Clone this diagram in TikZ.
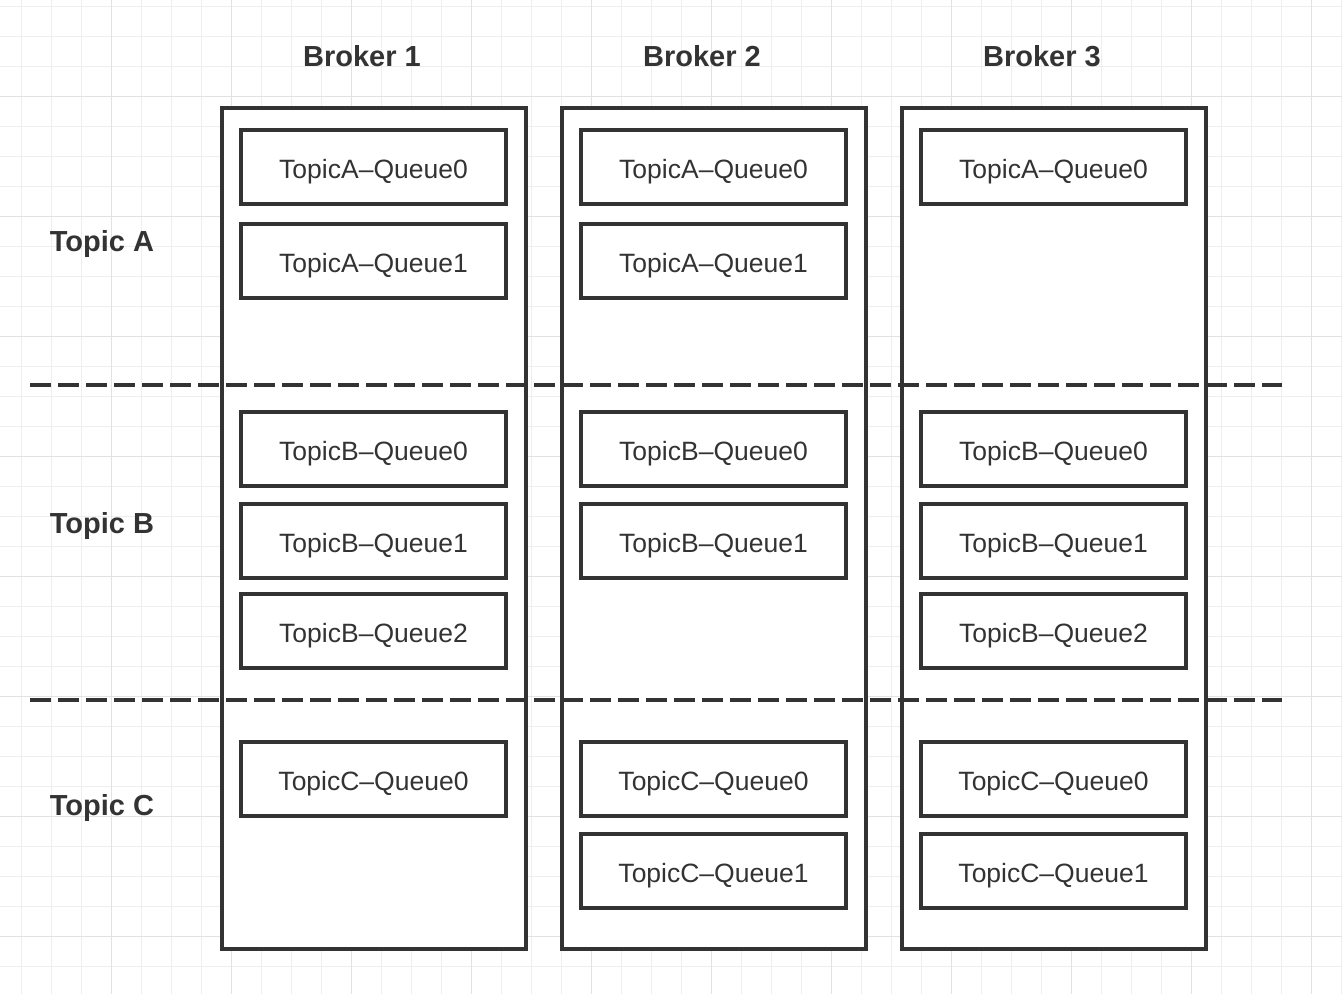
\documentclass[tikz,border=0pt]{standalone}
\usepackage{fontspec}
\setmainfont{Liberation Sans}
\definecolor{ink}{HTML}{333333}
\definecolor{gridminor}{HTML}{EEEEEE}
\definecolor{gridmajor}{HTML}{E2E2E2}
\begin{document}
\begin{tikzpicture}[x=1pt,y=-1pt,
  broker/.style={draw=ink,line width=3.2pt,fill=white,minimum width=304pt,minimum height=841pt,inner sep=0pt},
  queue/.style={draw=ink,line width=3.2pt,fill=white,minimum width=265pt,minimum height=74pt,inner sep=0pt,text=ink,font=\fontsize{26.5}{30}\selectfont,text height=23pt,text depth=0pt},
  head/.style={text=ink,font=\fontsize{29}{34}\selectfont\bfseries,text height=21pt,text depth=0pt,inner sep=0pt},
  sep/.style={draw=ink,line width=3.2pt,dash pattern=on 21pt off 7pt}]
\useasboundingbox (0,0) rectangle (1342,994);
\fill[white] (0,0) rectangle (1342,994);
% grid
\foreach \i in {0,...,44} {
  \draw[gridminor,line width=1.3pt] ({21.7+30*\i},0) -- ({21.7+30*\i},994);
}
\foreach \j in {0,...,33} {
  \draw[gridminor,line width=1.3pt] (0,{6.7+30*\j}) -- (1342,{6.7+30*\j});
}
\foreach \i in {0,...,10} {
  \draw[gridmajor,line width=1.5pt] ({111.7+120*\i},0) -- ({111.7+120*\i},994);
}
\foreach \j in {0,...,7} {
  \draw[gridmajor,line width=1.5pt] (0,{96.7+120*\j}) -- (1342,{96.7+120*\j});
}
% brokers
\node[broker] (b1) at (374,528.5) {};
\node[broker] (b2) at (714,528.5) {};
\node[broker] (b3) at (1054,528.5) {};
\node[head] (h1) at (362,56) {Broker 1};
\node[head] (h2) at (702,56) {Broker 2};
\node[head] (h3) at (1042,56) {Broker 3};
\node[head] (ta) at (102,241) {Topic A};
\node[head] (tb) at (102,523) {Topic B};
\node[head] (tc) at (102,805) {Topic C};
% broker 1 queues
\node[queue] (q1a0) at (373.5,167) {TopicA–Queue0};
\node[queue] (q1a1) at (373.5,261) {TopicA–Queue1};
\node[queue] (q1b0) at (373.5,449) {TopicB–Queue0};
\node[queue] (q1b1) at (373.5,541) {TopicB–Queue1};
\node[queue] (q1b2) at (373.5,631) {TopicB–Queue2};
\node[queue] (q1c0) at (373.5,779) {TopicC–Queue0};
% broker 2 queues
\node[queue] (q2a0) at (713.5,167) {TopicA–Queue0};
\node[queue] (q2a1) at (713.5,261) {TopicA–Queue1};
\node[queue] (q2b0) at (713.5,449) {TopicB–Queue0};
\node[queue] (q2b1) at (713.5,541) {TopicB–Queue1};
\node[queue] (q2c0) at (713.5,779) {TopicC–Queue0};
\node[queue] (q2c1) at (713.5,871) {TopicC–Queue1};
% broker 3 queues
\node[queue] (q3a0) at (1053.5,167) {TopicA–Queue0};
\node[queue] (q3b0) at (1053.5,449) {TopicB–Queue0};
\node[queue] (q3b1) at (1053.5,541) {TopicB–Queue1};
\node[queue] (q3b2) at (1053.5,631) {TopicB–Queue2};
\node[queue] (q3c0) at (1053.5,779) {TopicC–Queue0};
\node[queue] (q3c1) at (1053.5,871) {TopicC–Queue1};
% separators
\coordinate (s1l) at (30,385);
\coordinate (s1r) at (1282,385);
\coordinate (s2l) at (30,700);
\coordinate (s2r) at (1282,700);
\draw[sep] (s1l) -- (s1r);
\draw[sep] (s2l) -- (s2r);
\end{tikzpicture}
\end{document}
